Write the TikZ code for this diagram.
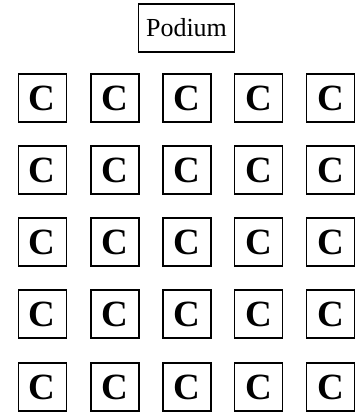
\documentclass[tikz,border=0pt]{standalone}
\usepackage{fontspec}
\setmainfont{Liberation Serif}
\begin{document}
\begin{tikzpicture}[x=1pt,y=-1pt,
  seat/.style={draw,line width=1.3pt,minimum width=48pt,minimum height=48pt,inner sep=0pt,font=\fontsize{37}{40}\selectfont\bfseries},
  podiumbox/.style={draw,line width=1.3pt,minimum width=96pt,minimum height=48pt,inner sep=0pt,font=\fontsize{26}{30}\selectfont}]
\useasboundingbox (0,0) rectangle (360,413);
\node[podiumbox] (podium) at (186.5,28) {Podium};
\foreach \i/\y in {1/98,2/170,3/242,4/314,5/387}{
  \foreach \j/\x in {1/42.3,2/115,3/187,4/258.5,5/330.5}{
    \node[seat] (c-\i-\j) at (\x,\y) {C};
  }
}
\end{tikzpicture}
\end{document}
